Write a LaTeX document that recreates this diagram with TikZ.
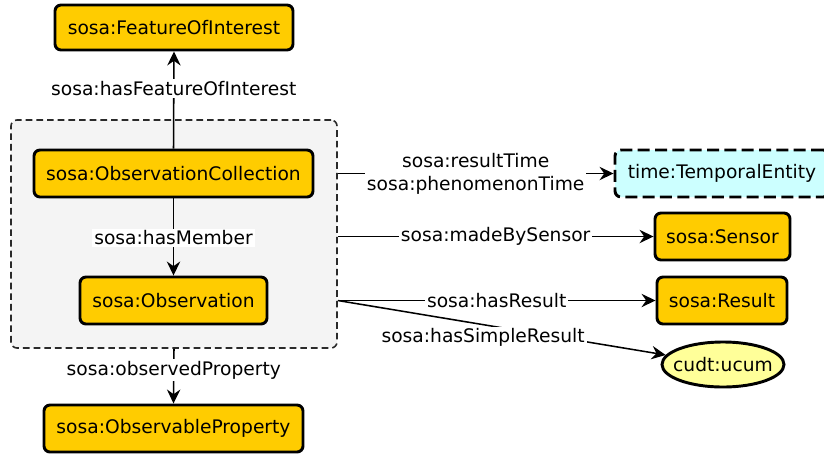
\documentclass[tikz,border=0pt]{standalone}
\usepackage{fontspec}
\setmainfont{DejaVu Sans}
\usetikzlibrary{arrows.meta,shapes.geometric}
\definecolor{gold}{HTML}{FFCC00}
\definecolor{tcyan}{HTML}{CCFFFF}
\definecolor{lyellow}{HTML}{FFFF99}
\definecolor{grpfill}{HTML}{F4F4F4}
\definecolor{grpline}{HTML}{2A2A2A}
\begin{document}
\begin{tikzpicture}[x=0.75pt,y=-0.75pt,
  font=\fontsize{14}{17}\selectfont,
  cls/.style={draw=black, fill=gold, line width=2.2pt, rounded corners=4.5pt, inner sep=0pt, minimum height=35.25pt},
  tcls/.style={draw=black, fill=tcyan, line width=2.2pt, dash pattern=on 9pt off 4pt, rounded corners=4.5pt, inner sep=0pt, minimum height=35.25pt},
  lit/.style={draw=black, fill=lyellow, line width=2.2pt, ellipse, inner ysep=0pt, inner xsep=-8pt, minimum width=91.5pt, minimum height=33.75pt},
  grpbox/.style={draw=grpline, fill=grpfill, line width=1.2pt, dash pattern=on 5pt off 3pt, rounded corners=4.5pt, inner sep=0pt, minimum width=244.5pt, minimum height=171pt},
  edge/.style={draw=black, line width=1.15pt, -{Stealth[length=10.5pt, width=10pt, inset=3.5pt]}},
  lbl/.style={fill=white, inner sep=1.5pt, text=black}]
\clip (0,0) rectangle (824,454);
\useasboundingbox (0,0) rectangle (824,454);
\node[grpbox] (grp) at (174,234) {};
\node[cls, minimum width=178.5pt, minimum height=33.75pt] (foi) at (174,27.5) {sosa:FeatureOfInterest};
\node[cls, minimum width=209.25pt] (oc) at (173.5,173.5) {sosa:ObservationCollection};
\node[cls, minimum width=140.25pt] (obs) at (173.5,300.5) {sosa:Observation};
\node[cls, minimum width=194.25pt] (op) at (173.5,428.5) {sosa:ObservableProperty};
\node[tcls, minimum width=160.5pt] (te) at (722,173.5) {time:TemporalEntity};
\node[cls, minimum width=101.25pt] (sen) at (722.5,236.5) {sosa:Sensor};
\node[cls, minimum width=97.5pt] (res) at (722,300.5) {sosa:Result};
\node[lit] (ucum) at (723,364.5) {cudt:ucum};
\draw[edge] (oc.north) -- node[lbl, pos=0.62] {sosa:hasFeatureOfInterest} (foi.south);
\draw[edge] (oc.south) -- node[lbl, pos=0.51] {sosa:hasMember} (obs.north);
\draw[edge] (grp.south) -- node[lbl, pos=0.39] {sosa:observedProperty} (op.north);
\draw[edge] (grp.east |- oc.east) -- node[lbl, align=center, font=\fontsize{14}{17.25}\selectfont] {sosa:resultTime\\sosa:phenomenonTime} (te.west);
\draw[edge] (grp.east |- sen.west) -- node[lbl] {sosa:madeBySensor} (sen.west);
\draw[edge] (grp.east |- obs.east) -- node[lbl] {sosa:hasResult} (res.west);
\draw[edge] (grp.east |- obs.east) -- node[lbl, midway, xshift=-14pt, yshift=-7.5pt] {sosa:hasSimpleResult} (ucum);
\end{tikzpicture}
\end{document}
